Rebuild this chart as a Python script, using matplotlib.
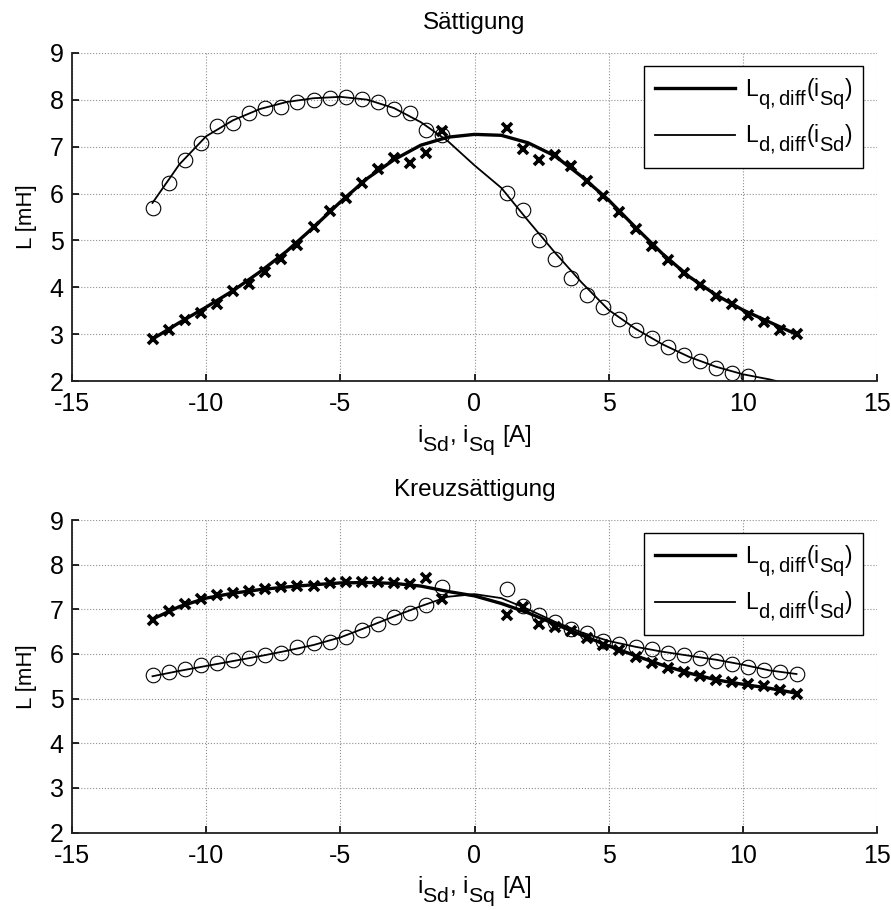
import matplotlib
matplotlib.use('Agg')
import matplotlib._mathtext as mtext
from matplotlib import pyplot as plt

plt.rcParams['font.family'] = ['Liberation Sans', 'DejaVu Sans']
plt.rcParams['mathtext.fontset'] = 'custom'
plt.rcParams['mathtext.rm'] = 'Liberation Sans'
plt.rcParams['axes.unicode_minus'] = False
# MATLAB draws subscripts almost full size and set lower
mtext.SHRINK_FACTOR = 0.88
mtext.FontConstantsBase.sub1 = 0.75
mtext.FontConstantsBase.sub2 = 0.85

# measuring points (current in A)
i_meas = [-12.0, -11.4, -10.8, -10.2, -9.6, -9.0, -8.4, -7.8, -7.2, -6.6, -6.0, -5.4,
          -4.8, -4.2, -3.6, -3.0, -2.4, -1.8, -1.2,
          1.2, 1.8, 2.4, 3.0, 3.6, 4.2, 4.8, 5.4, 6.0, 6.6, 7.2, 7.8, 8.4, 9.0, 9.6,
          10.2, 10.8, 11.4, 12.0]

# Saettigung - measured
lq_sat = [2.90, 3.10, 3.30, 3.46, 3.65, 3.93, 4.08, 4.32, 4.60, 4.91, 5.28, 5.62,
          5.90, 6.22, 6.52, 6.75, 6.66, 6.86, 7.34,
          7.40, 6.94, 6.72, 6.82, 6.59, 6.26, 5.94, 5.60, 5.24, 4.89, 4.59, 4.31, 4.06,
          3.82, 3.65, 3.42, 3.26, 3.10, 3.00]
ld_sat = [5.69, 6.22, 6.72, 7.07, 7.43, 7.51, 7.71, 7.82, 7.85, 7.94, 7.99, 8.04,
          8.06, 8.01, 7.96, 7.80, 7.72, 7.36, 7.25,
          6.01, 5.65, 5.00, 4.60, 4.20, 3.84, 3.58, 3.33, 3.10, 2.92, 2.74, 2.55, 2.43,
          2.29, 2.17, 2.11]

# Kreuzsaettigung - measured
lq_kreuz = [6.76, 6.96, 7.12, 7.24, 7.32, 7.37, 7.41, 7.45, 7.49, 7.52, 7.52, 7.58,
            7.62, 7.62, 7.62, 7.58, 7.56, 7.71, 7.24,
            6.87, 7.06, 6.68, 6.61, 6.52, 6.35, 6.20, 6.09, 5.93, 5.80, 5.68, 5.60, 5.50,
            5.41, 5.37, 5.32, 5.28, 5.20, 5.11]
ld_kreuz = [5.52, 5.60, 5.67, 5.75, 5.80, 5.86, 5.90, 5.97, 6.02, 6.16, 6.24, 6.27,
            6.37, 6.53, 6.67, 6.82, 6.91, 7.09, 7.50,
            7.45, 7.07, 6.87, 6.72, 6.55, 6.47, 6.30, 6.23, 6.16, 6.11, 6.02, 5.97, 5.90,
            5.84, 5.77, 5.71, 5.65, 5.60, 5.55]

# fitted curves, read at whole amps
i_fit = [-12, -11, -10, -9, -8, -7, -6, -5, -4, -3, -2, -1, 0,
         1, 2, 3, 4, 5, 6, 7, 8, 9, 10, 11, 12]
lq_sat_fit = [2.90, 3.25, 3.58, 3.93, 4.33, 4.77, 5.28, 5.82, 6.32, 6.72, 7.03, 7.20, 7.26,
              7.24, 7.08, 6.80, 6.36, 5.86, 5.28, 4.72, 4.23, 3.84, 3.52, 3.26, 3.00]
ld_sat_fit = [5.80, 6.62, 7.22, 7.56, 7.80, 7.95, 8.03, 8.06, 8.00, 7.82, 7.52, 7.12, 6.60,
              6.12, 5.42, 4.74, 4.10, 3.52, 3.12, 2.79, 2.52, 2.31, 2.15, 2.04, 1.90]
lq_kreuz_fit = [6.78, 7.06, 7.25, 7.36, 7.44, 7.50, 7.55, 7.59, 7.60, 7.58, 7.52, 7.40, 7.30,
                7.13, 6.92, 6.67, 6.42, 6.18, 5.96, 5.75, 5.57, 5.42, 5.32, 5.23, 5.12]
ld_kreuz_fit = [5.50, 5.62, 5.73, 5.84, 5.95, 6.07, 6.20, 6.37, 6.60, 6.84, 7.07, 7.28, 7.34,
                7.25, 7.00, 6.72, 6.48, 6.29, 6.16, 6.05, 5.96, 5.87, 5.76, 5.63, 5.55]

titles = ['Sättigung', 'Kreuzsättigung']
lbl_q = r'$\mathregular{L_{q,diff}(i_{Sq})}$'
lbl_d = r'$\mathregular{L_{d,diff}(i_{Sd})}$'

fig = plt.figure(figsize=(8.91, 9.10), dpi=100)
ax1 = fig.add_axes([72/891, 1-381.3/910, 805/891, 328.6/910])
ax2 = fig.add_axes([72/891, 1-832.5/910, 805/891, 312.5/910])

panels = [(ax1, lq_sat, ld_sat, lq_sat_fit, ld_sat_fit, 0.9595),
          (ax2, lq_kreuz, ld_kreuz, lq_kreuz_fit, ld_kreuz_fit, 0.958)]

for k, (ax, lq, ld, lqf, ldf, ytop) in enumerate(panels):
    ax.plot(i_fit, lqf, color='k', lw=2.4, label=lbl_q)
    ax.plot(i_fit, ldf, color='k', lw=1.3, label=lbl_d)
    ax.plot(i_meas[:len(lq)], lq, ls='none', marker='x', color='k', ms=7.5, mew=2.6)
    ax.plot(i_meas[:len(ld)], ld, ls='none', marker='o', mfc='none', mec='k', ms=10.5, mew=0.8)
    ax.set_xlim(-15, 15)
    ax.set_ylim(2, 9)
    ax.set_xticks([-15, -10, -5, 0, 5, 10, 15])
    ax.set_yticks([2, 3, 4, 5, 6, 7, 8, 9])
    ax.grid(True, ls=':', color='#909090', lw=0.8)
    ax.spines['top'].set_visible(False)
    ax.spines['right'].set_visible(False)
    for s in ['left', 'bottom']:
        ax.spines[s].set_linewidth(1.3)
        ax.spines[s].set_color('#202020')
    ax.tick_params(direction='in', length=5, width=1.2, labelsize=18)
    ax.tick_params(axis='x', pad=8)
    ax.tick_params(axis='y', pad=6)
    ax.set_title(titles[k], fontsize=17.5, pad=17)
    ax.set_xlabel(r'$\mathregular{i_{Sd}}$, $\mathregular{i_{Sq}}$ [A]', fontsize=17.5, labelpad=5)
    ax.set_ylabel('L [mH]', fontsize=16, labelpad=9)
    leg = ax.legend(loc='upper right', bbox_to_anchor=(0.9826, ytop),
                    borderaxespad=0, fontsize=16.5, handlelength=3.5, handletextpad=0.45,
                    labelspacing=0.5, fancybox=False, framealpha=1, edgecolor='k',
                    borderpad=0.45)
    leg.get_frame().set_linewidth(1.0)

plt.savefig('out.png', dpi=100)
